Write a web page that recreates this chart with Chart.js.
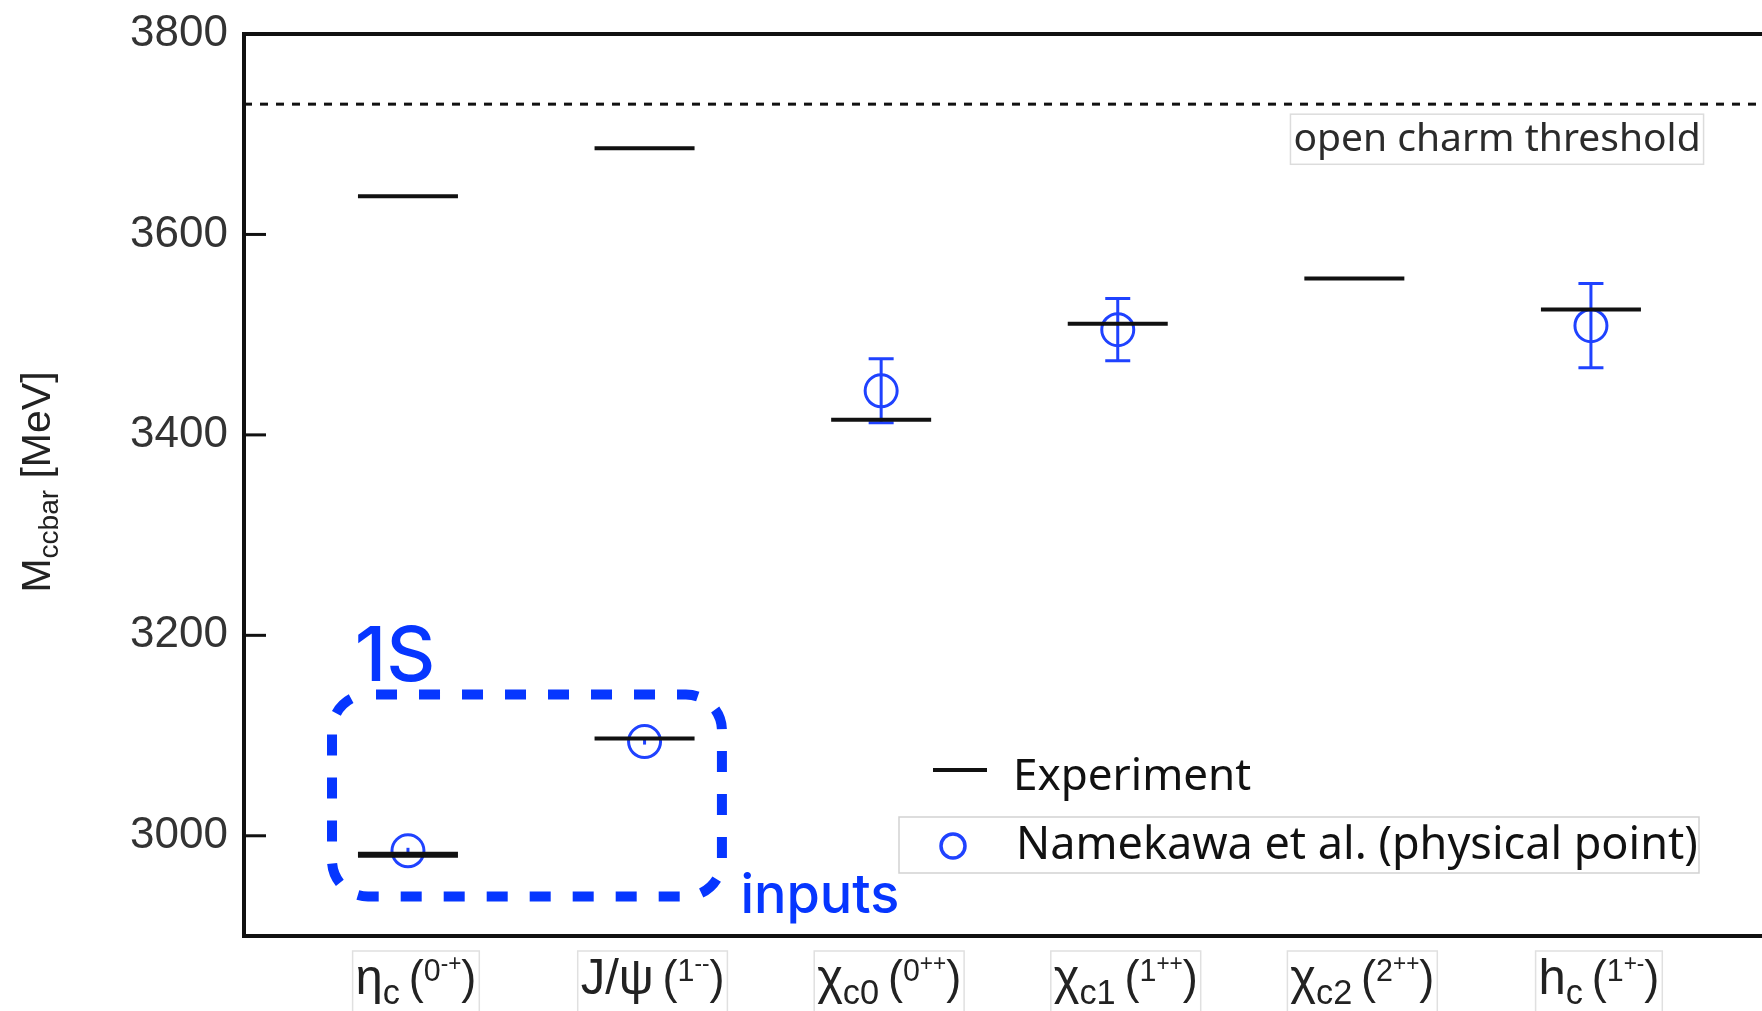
<!DOCTYPE html>
<html><head><meta charset="utf-8">
<script src="https://cdn.jsdelivr.net/npm/chart.js@4.4.1/dist/chart.umd.min.js"></script>
<style>html,body{margin:0;padding:0;background:#fff;overflow:hidden}#wrap{position:relative;width:1762px;height:1011px}</style>
</head><body><div id="wrap"><canvas id="c" width="1762" height="1011"></canvas></div>
<script>
// ---- data ----
const categoryX = [1, 2, 3, 4, 5, 6];
const categoryMain = ['η', 'J/ψ', 'χ', 'χ', 'χ', 'h'];
const categorySub = ['c', '', 'c0', 'c1', 'c2', 'c'];
const categoryJ = ['0', '1', '0', '1', '2', '1'];
const categoryPC = ['-+', '--', '++', '++', '++', '+-'];
const experimentMass = [2981, 3097, 3415, 3511, 3556, 3525];
const excitedX = [1, 2];
const excitedMass = [3638, 3686];
const latticeMass = [2985, 3094, 3444, 3505, null, 3509];
const latticeErr = [3, 3, 32, 31, null, 42];
const thresholdMass = 3730;
const yTicks = [3000, 3200, 3400, 3600, 3800];
const yMin = 2900, yMax = 3800;
const xMin = 0.307, xMax = 6.723;
const legendLabels = ['Experiment', 'Namekawa et al. (physical point)'];
const thresholdLabel = 'open charm threshold';
const groupLabel = '1S';
const groupNote = 'inputs';
const yTitleMain = 'M', yTitleSub = 'ccbar', yTitleUnit = ' [MeV]';

const BLUE = '#1f42ff';
const ANN_BLUE = '#0636ff';

const expPoints = categoryX.map((x, i) => ({x, y: experimentMass[i]}))
  .concat(excitedX.map((x, i) => ({x, y: excitedMass[i]})));
const latPoints = categoryX.map((x, i) => ({x, y: latticeMass[i], e: latticeErr[i]})).filter(p => p.y !== null);

function drawRich(ctx, segs, x, y, align) {
  let w = 0;
  segs.forEach(s => { ctx.font = s.font; w += ctx.measureText(s.t).width + (s.gap || 0); });
  let cx = align === 'center' ? x - w / 2 : x;
  const start = cx;
  segs.forEach(s => {
    ctx.font = s.font;
    ctx.fillText(s.t, cx, y + (s.dy || 0));
    cx += ctx.measureText(s.t).width + (s.gap || 0);
  });
  return {left: start, width: w};
}

const decor = {
  id: 'decor',
  beforeDatasetsDraw(chart) {
    const {ctx} = chart; const xs = chart.scales.x, ys = chart.scales.y;
    ctx.save();
    ctx.strokeStyle = BLUE; ctx.lineWidth = 3;
    latPoints.forEach(p => {
      const x = xs.getPixelForValue(p.x);
      const t = ys.getPixelForValue(p.y + p.e), b = ys.getPixelForValue(p.y - p.e);
      ctx.beginPath();
      ctx.moveTo(x, t); ctx.lineTo(x, b);
      if (p.e > 10) {
        ctx.moveTo(x - 12.5, t); ctx.lineTo(x + 12.5, t);
        ctx.moveTo(x - 12.5, b); ctx.lineTo(x + 12.5, b);
      }
      ctx.stroke();
    });
    ctx.restore();
  },
  afterDraw(chart) {
    const {ctx, chartArea: a} = chart; const xs = chart.scales.x, ys = chart.scales.y;
    ctx.save();
    // frame
    ctx.strokeStyle = '#111'; ctx.lineWidth = 4;
    ctx.beginPath();
    ctx.moveTo(a.right + 5, a.top); ctx.lineTo(a.left, a.top); ctx.lineTo(a.left, a.bottom); ctx.lineTo(a.right + 5, a.bottom);
    ctx.stroke();
    ctx.lineWidth = 3;
    yTicks.forEach(v => {
      const y = ys.getPixelForValue(v);
      ctx.beginPath(); ctx.moveTo(a.left, y); ctx.lineTo(a.left + 22, y); ctx.stroke();
    });
    // x labels
    ctx.textBaseline = 'alphabetic';
    const sx = 0.98;
    categoryX.forEach((xv, i) => {
      const x = xs.getPixelForValue(xv) + 8;
      const base = a.bottom + 58;
      const segs = [
        {t: categoryMain[i], font: '50px "Liberation Sans"'},
        {t: categorySub[i], font: '35px "Liberation Sans"', dy: 10, gap: 9},
        {t: '(', font: '46px "Liberation Sans"', dy: -1},
        {t: categoryJ[i], font: '31px "Liberation Sans"', dy: -13},
        {t: categoryPC[i], font: '23px "Liberation Sans"', dy: -23},
        {t: ')', font: '46px "Liberation Sans"', dy: -1}
      ];
      ctx.save();
      ctx.translate(x, 0); ctx.scale(sx, 1);
      ctx.fillStyle = '#222';
      const r = drawRich(ctx, segs, 0, base, 'center');
      ctx.restore();
      ctx.strokeStyle = '#e0e0e0'; ctx.lineWidth = 1.5;
      ctx.strokeRect(x + (r.left - 3) * sx, a.bottom + 15, (r.width + 6) * sx, 80);
    });
    // y title
    ctx.save();
    ctx.translate(50, 482); ctx.rotate(-Math.PI / 2);
    ctx.fillStyle = '#222';
    drawRich(ctx, [
      {t: yTitleMain, font: '41px "Liberation Sans"'},
      {t: yTitleSub, font: '28px "Liberation Sans"', dy: 8},
      {t: yTitleUnit, font: '41px "Liberation Sans"'}
    ], 0, 0, 'center');
    ctx.restore();
    // threshold label
    const tl = xs.getPixelForValue(4.73), tr = xs.getPixelForValue(6.476);
    const tt = ys.getPixelForValue(3720), tb = ys.getPixelForValue(3670);
    ctx.fillStyle = '#fff'; ctx.fillRect(tl, tt, tr - tl, tb - tt);
    ctx.strokeStyle = '#dcdcdc'; ctx.lineWidth = 1.5; ctx.strokeRect(tl, tt, tr - tl, tb - tt);
    ctx.fillStyle = '#2b2b2b'; ctx.font = '39px "Noto Sans"'; ctx.textAlign = 'left'; ctx.textBaseline = 'alphabetic';
    ctx.fillText(thresholdLabel, tl + 3, tb - 13);
    // legend
    ctx.strokeStyle = '#111'; ctx.lineWidth = 4;
    ctx.beginPath(); ctx.moveTo(933, 770); ctx.lineTo(987, 770); ctx.stroke();
    ctx.fillStyle = '#111'; ctx.font = '44px "Noto Sans"'; ctx.textBaseline = 'middle';
    ctx.fillText(legendLabels[0], 1013, 777);
    ctx.strokeStyle = '#d2d2d2'; ctx.lineWidth = 1.5; ctx.strokeRect(899, 817, 800, 56);
    ctx.strokeStyle = BLUE; ctx.lineWidth = 3.5;
    ctx.beginPath(); ctx.arc(953, 846, 12, 0, Math.PI * 2); ctx.stroke();
    ctx.fillStyle = '#111'; ctx.font = '45px "Noto Sans"';
    ctx.fillText(legendLabels[1], 1016, 846);
    // 1S group box
    const bl = xs.getPixelForValue(0.679), br = xs.getPixelForValue(2.327);
    const bt = ys.getPixelForValue(3141), bb = ys.getPixelForValue(2939.5);
    ctx.strokeStyle = ANN_BLUE; ctx.lineWidth = 10; ctx.setLineDash([21, 22]); ctx.lineDashOffset = -8;
    ctx.beginPath(); ctx.roundRect(bl, bt, br - bl, bb - bt, 36); ctx.stroke();
    ctx.setLineDash([]);
    ctx.fillStyle = ANN_BLUE; ctx.textBaseline = 'alphabetic';
    ctx.font = '500 76px Inter';
    ctx.fillText(groupLabel, xs.getPixelForValue(0.775), ys.getPixelForValue(3154));
    ctx.font = '500 54px Inter';
    ctx.fillText(groupNote, xs.getPixelForValue(2.405), ys.getPixelForValue(2923));
    ctx.restore();
  }
};

new Chart(document.getElementById('c'), {
  type: 'scatter',
  data: {
    datasets: [
      {
        label: legendLabels[0], data: expPoints, pointStyle: 'line',
        pointRadius: 50, pointHoverRadius: 50,
        pointBorderWidth: c => (c.dataIndex === 0 ? 6 : 4),
        borderColor: '#111', backgroundColor: '#111'
      },
      {
        label: legendLabels[1], data: latPoints, pointStyle: 'circle',
        pointRadius: 16, pointHoverRadius: 16, pointBorderWidth: 3,
        borderColor: BLUE, backgroundColor: 'rgba(0,0,0,0)'
      },
      {
        type: 'line', label: thresholdLabel,
        data: [{x: xMin, y: thresholdMass}, {x: xMax, y: thresholdMass}],
        borderColor: '#111', borderWidth: 3, borderDash: [8, 8], pointRadius: 0, fill: false
      }
    ]
  },
  options: {
    responsive: false, animation: false,
    layout: {autoPadding: false, padding: {top: 34, right: 0, bottom: 0, left: 0}},
    plugins: {legend: {display: false}, tooltip: {enabled: false}},
    scales: {
      x: {
        type: 'linear', min: xMin, max: xMax,
        ticks: {display: false}, grid: {display: false, drawTicks: false, tickLength: 0}, border: {display: false},
        afterFit(s) { s.height = 75; s.paddingLeft = 0; s.paddingRight = 0; }
      },
      y: {
        type: 'linear', min: yMin, max: yMax,
        afterBuildTicks(s) { s.ticks = yTicks.map(v => ({value: v})); },
        ticks: {font: {family: 'Liberation Sans', size: 44}, color: '#333', padding: 16, callback: v => String(v)},
        grid: {display: false, drawTicks: false, tickLength: 0}, border: {display: false},
        afterFit(s) { s.width = 244; s.paddingTop = 0; s.paddingBottom = 0; }
      }
    }
  },
  plugins: [decor]
});
</script></body></html>
